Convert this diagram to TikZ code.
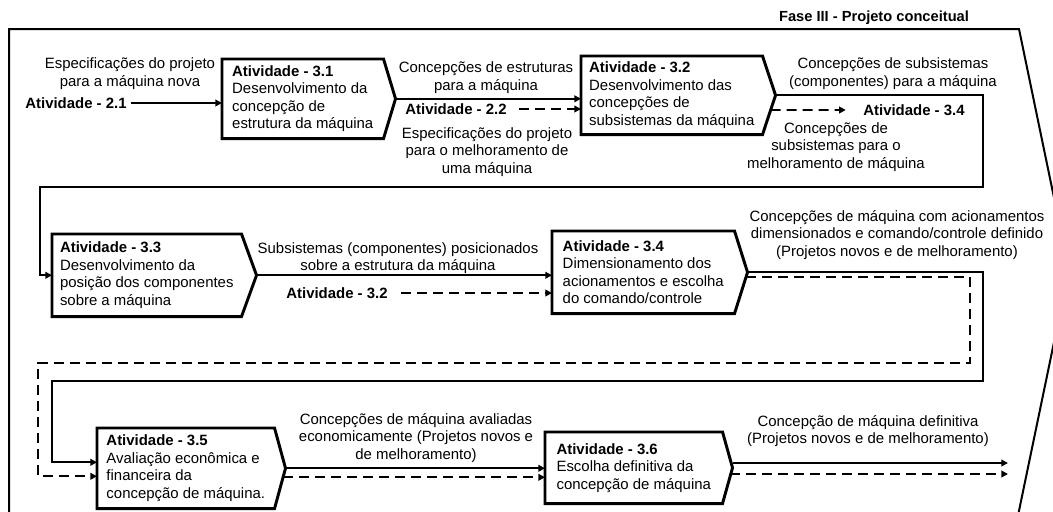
\documentclass[tikz,border=0pt]{standalone}
\usepackage{fontspec}
\setmainfont{Liberation Sans}
\usepackage{tikz}
\usetikzlibrary{arrows.meta,positioning,calc}

\begin{document}
\begin{tikzpicture}[x=0.75pt,y=-0.75pt,
    every node/.style={font=\fontsize{11.2}{13.1}\selectfont},
    ativ/.style={rectangle, anchor=north west, align=left, inner xsep=2pt, inner ysep=2pt},
    caixa/.style={line width=2.2pt, line join=miter},
    rot/.style={align=center, inner sep=1pt},
    atv/.style={inner sep=3pt, font=\fontsize{11.2}{13.1}\selectfont\bfseries},
    fluxo/.style={line width=1.4pt, -{Triangle[length=5pt,width=5pt]}},
    fluxotr/.style={fluxo, dash pattern=on 7.5pt off 4.5pt},
    moldura/.style={line width=1.5pt}]
\useasboundingbox (0,0) rectangle (1053,511);
\clip (0,0) rectangle (1053,511);
% moldura da fase
\draw[moldura] (9,530) -- (9,29) -- (1019,29) -- (1069,270) -- (1015,530);
\node[font=\fontsize{11}{12}\selectfont\bfseries] (fase) at (874,18) {Fase III - Projeto conceitual};

% atividades
\node[ativ, minimum width=120.75pt, minimum height=59.25pt] (a31) at (222,59) {\textbf{Atividade - 3.1}\\Desenvolvimento da\\concepção de\\estrutura da máquina};
\node[ativ, minimum width=135.75pt, minimum height=58.5pt] (a32) at (581,56) {\textbf{Atividade - 3.2}\\Desenvolvimento das\\concepções de\\subsistemas da máquina};
\node[ativ, minimum width=141.75pt, minimum height=61.5pt] (a33) at (52,234) {\textbf{Atividade - 3.3}\\Desenvolvimento da\\posição dos componentes\\sobre a máquina};
\node[ativ, minimum width=136.5pt, minimum height=61.5pt] (a34) at (552,231) {\textbf{Atividade - 3.4}\\Dimensionamento dos\\acionamentos e escolha\\do comando/controle};
\node[ativ, minimum width=132.75pt, minimum height=60pt] (a35) at (97,428) {\textbf{Atividade - 3.5}\\Avaliação econômica e\\financeira da\\concepção de máquina.};
\node[ativ, minimum width=132.75pt, minimum height=53.25pt] (a36) at (545,432) {\textbf{Atividade - 3.6}\\Escolha definitiva da\\concepção de máquina};
\foreach \b/\p in {a31/9pt, a32/9.75pt, a33/11.25pt, a34/9.75pt, a35/8.25pt, a36/7.5pt}
  \draw[caixa] (\b.north west) -- (\b.north east) -- ([xshift=\p]\b.east) coordinate (\b-p)
     -- (\b.south east) -- (\b.south west) -- cycle;

% entradas e saidas
\node[atv] (a21) at (76,103) {Atividade - 2.1};
\node[rot] (l21) at (130,73.5) {Especificações do projeto\\para a máquina nova};
\draw[fluxo] (a21.east) -- (a21.east -| a31.west);

\node[rot] (l1) at (486,77.5) {Concepções de estruturas\\para a máquina};
\draw[fluxo] (a31-p) -- (a31-p -| a32.west);
\node[atv] (a22) at (456,109) {Atividade - 2.2};
\draw[fluxotr] ([xshift=6pt]a22.east) -- (a22.east -| a32.west);
\node[rot] (l2) at (487,152) {Especificações do projeto\\para o melhoramento de\\uma máquina};

\node[rot] (l3) at (893,73.5) {Concepções de subsistemas\\(componentes) para a máquina};
\coordinate (ret1) at (983,187);
\coordinate (esq1) at (40,187);
\draw[fluxo] (a32-p) -| (ret1) -- (esq1) |- (a33.west);
\node[atv] (a34r) at (914,110) {Atividade - 3.4};
\draw[fluxotr] ([xshift=6pt,yshift=-11pt]a32.east) -- ([xshift=-10pt]a34r.west);
\node[rot] (l4) at (836,147) {Concepções de\\subsistemas para o\\melhoramento de máquina};

\node[rot] (l5) at (398,258) {Subsistemas (componentes) posicionados\\sobre a estrutura da máquina};
\draw[fluxo] (a33-p) -- (a33-p -| a34.west);
\node[atv] (a32r) at (337,293) {Atividade - 3.2};
\draw[fluxotr] ([xshift=7pt]a32r.east) -- (a32r.east -| a34.west);

\node[rot] (l6) at (897,235) {Concepções de máquina com acionamentos\\dimensionados e comando/controle definido\\(Projetos novos e de melhoramento)};
\coordinate (ret2) at (983,381);
\coordinate (esq2) at (52,381);
\coordinate (ret3) at (970,363);
\coordinate (esq3) at (38,363);
\draw[fluxo] (a34-p) -| (ret2) -- (esq2) |- ([yshift=4.5pt]a35.west);
\draw[fluxotr] ([xshift=-1pt,yshift=-3.75pt]a34-p) -| (ret3) -- (esq3) |- ([yshift=-6pt]a35.west);

\node[rot] (l7) at (416,438) {Concepções de máquina avaliadas\\economicamente (Projetos novos e\\de melhoramento)};
\draw[fluxo] (a35-p) -- (a35-p -| a36.west);
\draw[fluxotr] ([xshift=-2pt,yshift=-6.75pt]a35-p) -- ([yshift=-6.75pt]a35-p -| a36.west);

\node[rot] (l8) at (868,431) {Concepção de máquina definitiva\\(Projetos novos e de melhoramento)};
\coordinate (fim1) at (1008,463);
\coordinate (fim2) at (1008,474);
\draw[fluxo] (a36-p |- fim1) -- (fim1);
\draw[fluxotr] ([xshift=-2pt]a36-p |- fim2) -- (fim2);
\end{tikzpicture}
\end{document}
